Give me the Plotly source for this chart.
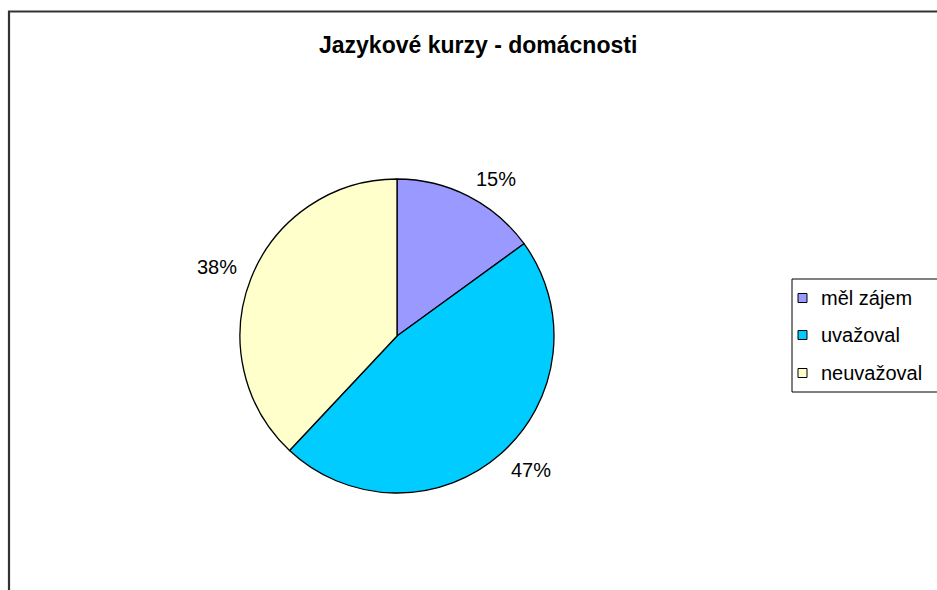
import math
import plotly.graph_objects as go

# ---- data ----
title_text = "Jazykové kurzy - domácnosti"
labels = ["měl zájem", "uvažoval", "neuvažoval"]
values = [15, 47, 38]
colors = ["#9999FF", "#00CCFF", "#FFFFCC"]

W, H = 937, 590
FONT = "Liberation Sans, Arial, sans-serif"

def px(x):
    return x / W

def py(y):
    return 1 - y / H

# pie geometry (pixels, in the screenshot frame)
cx, cy, r = 397, 336, 157
label_R, half_w, half_h = 170, 22, 6

fig = go.Figure()
fig.add_trace(go.Pie(
    labels=labels,
    values=values,
    marker=dict(colors=colors, line=dict(color="black", width=1.3)),
    sort=False,
    direction="clockwise",
    rotation=0,
    textinfo="none",
    hoverinfo="label+percent",
    showlegend=False,
    domain=dict(x=[px(cx - r), px(cx + r)], y=[py(cy + r), py(cy - r)]),
))

annotations = []
total = sum(values)
cum = 0
for v in values:
    mid = (cum + v / 2) / total * 2 * math.pi
    cum += v
    s, c = math.sin(mid), math.cos(mid)
    lx = cx + label_R * s + math.copysign(half_w, s)
    ly = cy - label_R * c - math.copysign(half_h, c)
    annotations.append(dict(
        x=px(lx), y=py(ly), xref="paper", yref="paper",
        text=f"{round(v / total * 100)}%", showarrow=False,
        xanchor="center", yanchor="middle",
        font=dict(family=FONT, size=20, color="black"),
    ))

shapes = [
    dict(type="rect", xref="paper", yref="paper",
         x0=px(9), x1=px(960), y0=py(620), y1=py(11.5),
         line=dict(color="#333333", width=2.2), fillcolor="rgba(0,0,0,0)"),
    dict(type="rect", xref="paper", yref="paper",
         x0=px(792), x1=px(960), y0=py(392), y1=py(279),
         line=dict(color="black", width=1), fillcolor="white"),
]

leg_y = [298, 335, 373]
for lab, col, yy in zip(labels, colors, leg_y):
    shapes.append(dict(type="rect", xref="paper", yref="paper",
                       x0=px(798), x1=px(807), y0=py(yy + 4.5), y1=py(yy - 4.5),
                       line=dict(color="black", width=1), fillcolor=col))
    annotations.append(dict(
        x=px(819), y=py(yy), xref="paper", yref="paper",
        text=lab, showarrow=False, xanchor="left", yanchor="middle",
        font=dict(family=FONT, size=20, color="black"),
    ))

annotations.append(dict(
    x=px(478), y=py(45), xref="paper", yref="paper",
    text=f"<b>{title_text}</b>", showarrow=False,
    xanchor="center", yanchor="middle",
    font=dict(family=FONT, size=23, color="black"),
))

fig.update_layout(
    width=W, height=H,
    margin=dict(l=0, r=0, t=0, b=0),
    paper_bgcolor="white",
    plot_bgcolor="white",
    shapes=shapes,
    annotations=annotations,
)

fig.write_html("out.html",
               config={"displayModeBar": False},
               post_script="document.body.style.margin='0';document.body.style.overflow='hidden';")
